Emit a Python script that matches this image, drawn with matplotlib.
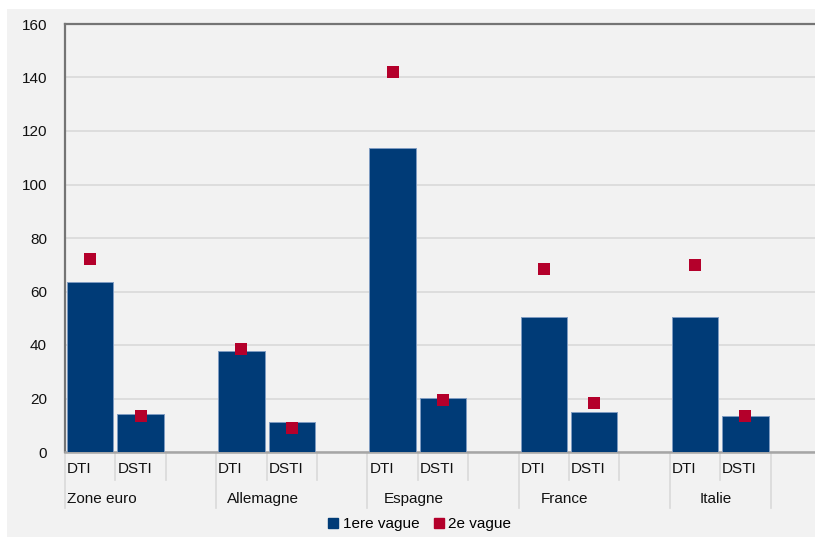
import matplotlib
matplotlib.use("Agg")
import matplotlib.pyplot as plt
from matplotlib.patches import Rectangle
from matplotlib.lines import Line2D

plt.rcParams['font.family'] = ['Liberation Sans', 'DejaVu Sans']

groups = ["Zone euro", "Allemagne", "Espagne", "France", "Italie"]
measures = ["DTI", "DSTI"]
vague1 = [63.5, 14.3, 37.6, 11.2, 113.8, 20.2, 50.5, 15.0, 50.4, 13.5]
vague2 = [72.0, 13.6, 38.5, 9.1, 141.9, 19.3, 68.4, 18.2, 69.9, 13.3]
series_names = ["1ere vague", "2e vague"]
yticks = [0, 20, 40, 60, 80, 100, 120, 140, 160]

BLUE = "#003B77"
RED = "#B4002B"
BG = "#F2F2F2"
TXT = "#111111"
FS = 11

W, H = 815, 537
fig = plt.figure(figsize=(W / 100, H / 100), dpi=100, facecolor="white")
fig.patches.append(Rectangle((7 / W, 0), 1, (H - 9) / H, transform=fig.transFigure,
                             facecolor=BG, edgecolor="none", zorder=-10))

x0, x1, ytop, ybase = 65, 821, 24, 452
ax = fig.add_axes([x0 / W, (H - ybase) / H, (x1 - x0) / W, (ybase - ytop) / H])
ax.set_zorder(1)
ax.patch.set_alpha(0)

# slot positions: each group takes DTI, DSTI and one empty slot
xs = []
for g in range(len(groups)):
    xs += [3 * g, 3 * g + 1]

ax.bar(xs, vague1, width=0.92, color=BLUE, edgecolor="#7f9cc2", linewidth=0.7, zorder=3)
ax.scatter(xs, vague2, marker="s", s=70, color=RED, zorder=4, linewidths=0)

ax.set_xlim(-0.5, 14.5)
ax.set_ylim(0, 160)
ax.set_yticks(yticks)
ax.set_yticklabels([str(v) for v in yticks], fontsize=FS, color=TXT)
ax.tick_params(axis="y", length=0, pad=13)
ax.set_xticks([])
ax.grid(axis="y", color="#D9D9D9", linewidth=1.2, zorder=1)
ax.set_axisbelow(True)

ax.spines["right"].set_visible(False)
ax.spines["top"].set_color("#757575")
ax.spines["top"].set_linewidth(1.6)
ax.spines["left"].set_color("#757575")
ax.spines["left"].set_linewidth(1.6)
ax.spines["bottom"].set_color("#A6A6A6")
ax.spines["bottom"].set_linewidth(1.8)

# category axis: separators and two rows of labels, placed in pixel offsets below the baseline
trans = ax.get_xaxis_transform()
px = 1 / (ybase - ytop)
for edge in range(15):
    xe = edge - 0.5
    long_line = edge % 3 == 0 or edge == 14
    depth = (508 if long_line else 480) - ybase
    ax.add_line(Line2D([xe, xe], [0, -depth * px], transform=trans, color="#D9D9D9",
                       linewidth=1.2, clip_on=False, zorder=2))

for i, x in enumerate(xs):
    ax.text(x - 0.46, -(469 - ybase) * px, measures[i % 2], transform=trans,
            ha="left", va="center", fontsize=FS, color=TXT)

for g, name in enumerate(groups):
    if g == 0:
        ax.text(-0.46, -(499 - ybase) * px, name, transform=trans,
                ha="left", va="center", fontsize=FS, color=TXT)
    else:
        ax.text(3 * g + 0.5 - 0.08, -(499 - ybase) * px, name, transform=trans,
                ha="center", va="center", fontsize=FS, color=TXT)

handles = [
    Line2D([], [], marker="s", linestyle="none", markersize=6.5, color=BLUE),
    Line2D([], [], marker="s", linestyle="none", markersize=7.5, color=RED),
]
fig.legend(handles, series_names, loc="center", bbox_to_anchor=(420 / W, (H - 524) / H),
           ncol=2, frameon=False, fontsize=FS, handlelength=0.6, handletextpad=0.3,
           columnspacing=1.0, borderpad=0)

fig.savefig("out.png", dpi=100, facecolor=fig.get_facecolor())
